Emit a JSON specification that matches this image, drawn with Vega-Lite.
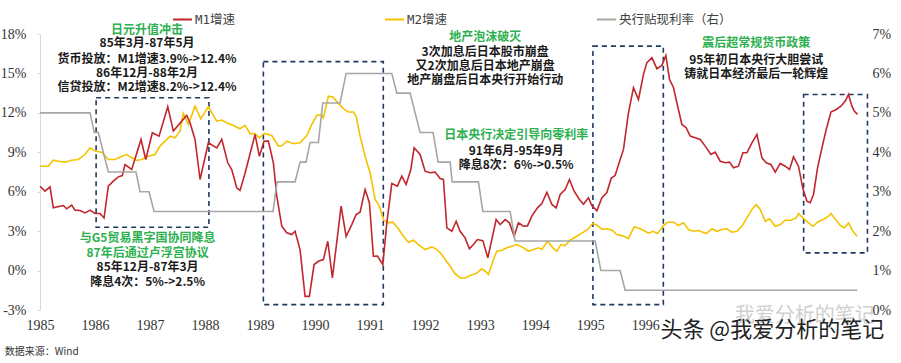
{
  "$schema": "https://vega.github.io/schema/vega-lite/v6.json",
  "width": 828,
  "height": 276,
  "autosize": "none",
  "padding": {"left": 40, "top": 34, "right": 33, "bottom": 53},
  "background": "white",
  "config": {"view": {"stroke": null}, "axis": {"labelOverlap": false}},
  "datasets": {
    "m1": [
      {"yr":1985.000,"v":6.42},{"yr":1985.091,"v":6.04},{"yr":1985.182,"v":6.37},{"yr":1985.242,"v":4.77},{"yr":1985.364,"v":4.90},{"yr":1985.424,"v":4.95},{"yr":1985.485,"v":4.70},{"yr":1985.576,"v":4.98},{"yr":1985.636,"v":4.60},{"yr":1985.727,"v":4.57},{"yr":1985.818,"v":4.39},{"yr":1985.909,"v":4.60},{"yr":1986.000,"v":4.34},{"yr":1986.091,"v":4.34},{"yr":1986.164,"v":4.00},{"yr":1986.242,"v":6.42},{"yr":1986.333,"v":6.80},{"yr":1986.424,"v":7.13},{"yr":1986.496,"v":7.23},{"yr":1986.545,"v":8.07},{"yr":1986.667,"v":7.69},{"yr":1986.836,"v":9.98},{"yr":1986.922,"v":8.45},{"yr":1987.042,"v":10.49},{"yr":1987.164,"v":10.23},{"yr":1987.322,"v":12.47},{"yr":1987.424,"v":10.61},{"yr":1987.576,"v":11.37},{"yr":1987.667,"v":11.80},{"yr":1987.727,"v":11.25},{"yr":1987.818,"v":9.98},{"yr":1987.909,"v":6.93},{"yr":1988.060,"v":9.72},{"yr":1988.213,"v":9.34},{"yr":1988.304,"v":9.98},{"yr":1988.413,"v":8.20},{"yr":1988.485,"v":7.69},{"yr":1988.576,"v":6.30},{"yr":1988.636,"v":6.10},{"yr":1988.727,"v":7.40},{"yr":1988.909,"v":10.36},{"yr":1988.987,"v":8.70},{"yr":1989.073,"v":9.85},{"yr":1989.151,"v":9.85},{"yr":1989.242,"v":8.20},{"yr":1989.304,"v":5.66},{"yr":1989.395,"v":3.37},{"yr":1989.485,"v":2.87},{"yr":1989.576,"v":2.74},{"yr":1989.636,"v":2.99},{"yr":1989.727,"v":1.60},{"yr":1989.818,"v":-1.96},{"yr":1989.896,"v":-1.96},{"yr":1989.982,"v":0.46},{"yr":1990.060,"v":0.71},{"yr":1990.151,"v":0.84},{"yr":1990.231,"v":2.23},{"yr":1990.315,"v":-0.56},{"yr":1990.473,"v":4.90},{"yr":1990.564,"v":2.61},{"yr":1990.667,"v":3.50},{"yr":1990.745,"v":4.26},{"yr":1990.818,"v":4.44},{"yr":1990.909,"v":6.17},{"yr":1990.987,"v":5.16},{"yr":1991.060,"v":1.09},{"yr":1991.133,"v":1.10},{"yr":1991.231,"v":0.46},{"yr":1991.304,"v":3.63},{"yr":1991.395,"v":6.63},{"yr":1991.496,"v":6.42},{"yr":1991.576,"v":7.18},{"yr":1991.655,"v":6.55},{"yr":1991.740,"v":7.69},{"yr":1991.800,"v":9.34},{"yr":1991.909,"v":8.83},{"yr":1992.000,"v":7.56},{"yr":1992.091,"v":7.44},{"yr":1992.182,"v":7.49},{"yr":1992.273,"v":7.00},{"yr":1992.333,"v":6.93},{"yr":1992.395,"v":3.25},{"yr":1992.485,"v":2.99},{"yr":1992.564,"v":3.75},{"yr":1992.636,"v":2.99},{"yr":1992.727,"v":2.49},{"yr":1992.805,"v":1.65},{"yr":1992.878,"v":1.98},{"yr":1992.951,"v":2.36},{"yr":1993.049,"v":2.28},{"yr":1993.140,"v":0.97},{"yr":1993.291,"v":3.88},{"yr":1993.364,"v":3.50},{"yr":1993.455,"v":3.88},{"yr":1993.533,"v":3.63},{"yr":1993.618,"v":2.61},{"yr":1993.696,"v":3.63},{"yr":1993.787,"v":3.37},{"yr":1993.860,"v":3.40},{"yr":1993.940,"v":4.14},{"yr":1994.042,"v":4.77},{"yr":1994.122,"v":5.10},{"yr":1994.213,"v":5.96},{"yr":1994.304,"v":5.03},{"yr":1994.382,"v":4.77},{"yr":1994.455,"v":5.79},{"yr":1994.545,"v":6.17},{"yr":1994.624,"v":6.93},{"yr":1994.709,"v":6.04},{"yr":1994.805,"v":5.41},{"yr":1994.878,"v":5.05},{"yr":1994.969,"v":5.54},{"yr":1995.031,"v":4.95},{"yr":1995.122,"v":4.55},{"yr":1995.213,"v":5.54},{"yr":1995.304,"v":5.94},{"yr":1995.382,"v":7.02},{"yr":1995.455,"v":7.25},{"yr":1995.545,"v":8.45},{"yr":1995.605,"v":9.20},{"yr":1995.696,"v":12.00},{"yr":1995.787,"v":13.91},{"yr":1995.878,"v":13.02},{"yr":1995.969,"v":14.93},{"yr":1996.031,"v":15.82},{"yr":1996.122,"v":16.20},{"yr":1996.213,"v":15.36},{"yr":1996.304,"v":15.61},{"yr":1996.376,"v":16.37},{"yr":1996.442,"v":14.55},{"yr":1996.515,"v":13.91},{"yr":1996.576,"v":12.77},{"yr":1996.667,"v":11.12},{"yr":1996.745,"v":10.87},{"yr":1996.818,"v":10.23},{"yr":1996.909,"v":10.11},{"yr":1997.000,"v":9.98},{"yr":1997.091,"v":9.47},{"yr":1997.195,"v":8.83},{"yr":1997.273,"v":9.01},{"yr":1997.364,"v":8.32},{"yr":1997.455,"v":8.20},{"yr":1997.533,"v":8.25},{"yr":1997.605,"v":7.82},{"yr":1997.696,"v":7.94},{"yr":1997.776,"v":8.96},{"yr":1997.849,"v":8.96},{"yr":1997.940,"v":9.72},{"yr":1998.031,"v":10.36},{"yr":1998.122,"v":8.58},{"yr":1998.200,"v":8.20},{"yr":1998.285,"v":8.07},{"yr":1998.364,"v":7.49},{"yr":1998.455,"v":8.15},{"yr":1998.545,"v":7.94},{"yr":1998.624,"v":7.69},{"yr":1998.696,"v":8.66},{"yr":1998.787,"v":7.94},{"yr":1998.867,"v":6.22},{"yr":1998.940,"v":5.28},{"yr":1999.000,"v":5.16},{"yr":1999.060,"v":5.79},{"yr":1999.133,"v":7.82},{"yr":1999.213,"v":9.34},{"yr":1999.291,"v":10.74},{"yr":1999.376,"v":12.06},{"yr":1999.473,"v":12.26},{"yr":1999.558,"v":12.51},{"yr":1999.636,"v":12.90},{"yr":1999.696,"v":13.40},{"yr":1999.758,"v":12.51},{"yr":1999.800,"v":12.13},{"yr":1999.860,"v":11.88}
    ],
    "m2": [
      {"yr":1985.000,"v":7.94},{"yr":1985.151,"v":7.94},{"yr":1985.242,"v":8.40},{"yr":1985.333,"v":8.32},{"yr":1985.455,"v":8.25},{"yr":1985.576,"v":8.40},{"yr":1985.696,"v":8.45},{"yr":1985.818,"v":8.83},{"yr":1985.909,"v":9.34},{"yr":1986.000,"v":9.09},{"yr":1986.122,"v":9.01},{"yr":1986.242,"v":8.45},{"yr":1986.364,"v":8.45},{"yr":1986.485,"v":8.70},{"yr":1986.576,"v":8.83},{"yr":1986.667,"v":8.58},{"yr":1986.758,"v":8.38},{"yr":1986.849,"v":8.45},{"yr":1986.969,"v":8.70},{"yr":1987.091,"v":8.83},{"yr":1987.182,"v":9.47},{"yr":1987.273,"v":9.85},{"yr":1987.364,"v":10.23},{"yr":1987.455,"v":10.10},{"yr":1987.545,"v":10.61},{"yr":1987.605,"v":11.96},{"yr":1987.696,"v":11.12},{"yr":1987.818,"v":12.51},{"yr":1987.922,"v":11.55},{"yr":1988.060,"v":12.47},{"yr":1988.213,"v":11.37},{"yr":1988.304,"v":11.45},{"yr":1988.395,"v":11.25},{"yr":1988.515,"v":11.04},{"yr":1988.636,"v":10.79},{"yr":1988.727,"v":11.05},{"yr":1988.818,"v":10.41},{"yr":1988.909,"v":10.43},{"yr":1988.987,"v":10.10},{"yr":1989.073,"v":10.43},{"yr":1989.213,"v":10.28},{"yr":1989.333,"v":9.47},{"yr":1989.395,"v":9.50},{"yr":1989.485,"v":9.85},{"yr":1989.605,"v":9.65},{"yr":1989.727,"v":9.72},{"yr":1989.849,"v":10.28},{"yr":1989.940,"v":11.12},{"yr":1990.031,"v":11.80},{"yr":1990.109,"v":11.88},{"yr":1990.151,"v":11.63},{"yr":1990.242,"v":13.27},{"yr":1990.322,"v":13.20},{"yr":1990.424,"v":12.72},{"yr":1990.515,"v":12.32},{"yr":1990.605,"v":12.06},{"yr":1990.696,"v":12.06},{"yr":1990.745,"v":11.75},{"yr":1990.818,"v":10.23},{"yr":1990.909,"v":8.70},{"yr":1991.000,"v":7.44},{"yr":1991.091,"v":5.41},{"yr":1991.169,"v":4.90},{"yr":1991.242,"v":3.88},{"yr":1991.322,"v":3.63},{"yr":1991.413,"v":3.68},{"yr":1991.515,"v":3.18},{"yr":1991.605,"v":2.61},{"yr":1991.696,"v":2.16},{"yr":1991.787,"v":2.31},{"yr":1991.878,"v":1.98},{"yr":1992.000,"v":1.60},{"yr":1992.122,"v":1.80},{"yr":1992.213,"v":1.60},{"yr":1992.273,"v":1.35},{"yr":1992.333,"v":1.04},{"yr":1992.364,"v":0.84},{"yr":1992.455,"v":0.33},{"yr":1992.545,"v":-0.23},{"yr":1992.636,"v":-0.56},{"yr":1992.727,"v":-0.56},{"yr":1992.818,"v":-0.38},{"yr":1992.927,"v":-0.23},{"yr":1993.031,"v":0.13},{"yr":1993.091,"v":-0.05},{"yr":1993.151,"v":-0.30},{"yr":1993.242,"v":0.84},{"yr":1993.304,"v":1.47},{"yr":1993.395,"v":1.55},{"yr":1993.485,"v":1.73},{"yr":1993.576,"v":1.85},{"yr":1993.667,"v":1.98},{"yr":1993.787,"v":1.73},{"yr":1993.878,"v":1.47},{"yr":1993.969,"v":1.60},{"yr":1994.060,"v":1.73},{"yr":1994.122,"v":1.60},{"yr":1994.224,"v":2.23},{"yr":1994.322,"v":1.73},{"yr":1994.395,"v":1.47},{"yr":1994.467,"v":1.98},{"yr":1994.545,"v":1.90},{"yr":1994.636,"v":2.31},{"yr":1994.758,"v":2.61},{"yr":1994.878,"v":2.92},{"yr":1994.969,"v":3.18},{"yr":1995.049,"v":3.60},{"yr":1995.122,"v":3.45},{"yr":1995.213,"v":3.15},{"yr":1995.304,"v":3.18},{"yr":1995.395,"v":3.08},{"yr":1995.485,"v":2.74},{"yr":1995.595,"v":2.64},{"yr":1995.696,"v":2.45},{"yr":1995.800,"v":3.33},{"yr":1995.909,"v":3.18},{"yr":1996.000,"v":2.99},{"yr":1996.060,"v":2.85},{"yr":1996.140,"v":2.99},{"yr":1996.224,"v":2.82},{"yr":1996.322,"v":3.37},{"yr":1996.405,"v":3.68},{"yr":1996.515,"v":3.68},{"yr":1996.605,"v":3.43},{"yr":1996.696,"v":3.63},{"yr":1996.787,"v":3.12},{"yr":1996.878,"v":2.99},{"yr":1996.969,"v":3.05},{"yr":1997.109,"v":2.82},{"yr":1997.213,"v":3.18},{"yr":1997.304,"v":2.99},{"yr":1997.395,"v":3.12},{"yr":1997.485,"v":3.18},{"yr":1997.576,"v":2.92},{"yr":1997.667,"v":2.99},{"yr":1997.758,"v":3.37},{"yr":1997.849,"v":4.01},{"yr":1997.940,"v":4.65},{"yr":1998.018,"v":5.03},{"yr":1998.091,"v":4.65},{"yr":1998.182,"v":3.75},{"yr":1998.260,"v":3.94},{"yr":1998.364,"v":3.37},{"yr":1998.455,"v":3.50},{"yr":1998.545,"v":3.83},{"yr":1998.649,"v":3.83},{"yr":1998.745,"v":4.01},{"yr":1998.787,"v":4.34},{"yr":1998.867,"v":4.01},{"yr":1998.969,"v":3.63},{"yr":1999.049,"v":3.37},{"yr":1999.133,"v":3.68},{"yr":1999.231,"v":3.88},{"yr":1999.333,"v":4.14},{"yr":1999.376,"v":4.34},{"yr":1999.473,"v":3.83},{"yr":1999.545,"v":3.43},{"yr":1999.618,"v":3.25},{"yr":1999.696,"v":3.63},{"yr":1999.776,"v":2.99},{"yr":1999.849,"v":2.61}
    ],
    "rate": [
      {"yr":1985.000,"v":5.0},{"yr":1985.909,"v":5.0},{"yr":1985.987,"v":4.5},{"yr":1986.060,"v":4.5},{"yr":1986.242,"v":3.5},{"yr":1986.745,"v":3.5},{"yr":1986.818,"v":3.0},{"yr":1986.982,"v":3.0},{"yr":1987.073,"v":2.5},{"yr":1989.236,"v":2.5},{"yr":1989.309,"v":3.25},{"yr":1989.636,"v":3.25},{"yr":1989.727,"v":3.75},{"yr":1989.836,"v":3.75},{"yr":1989.909,"v":4.25},{"yr":1990.060,"v":4.25},{"yr":1990.140,"v":5.25},{"yr":1990.455,"v":5.25},{"yr":1990.564,"v":6.0},{"yr":1991.395,"v":6.0},{"yr":1991.485,"v":5.5},{"yr":1991.727,"v":5.5},{"yr":1991.909,"v":4.5},{"yr":1992.145,"v":4.5},{"yr":1992.236,"v":3.75},{"yr":1992.455,"v":3.75},{"yr":1992.491,"v":3.25},{"yr":1992.969,"v":3.25},{"yr":1993.049,"v":2.5},{"yr":1993.545,"v":2.5},{"yr":1993.636,"v":1.75},{"yr":1995.091,"v":1.75},{"yr":1995.195,"v":1.0},{"yr":1995.545,"v":1.0},{"yr":1995.636,"v":0.5},{"yr":1999.855,"v":0.5}
    ],
    "boxes": [
      {"x1":1986.02,"x2":1988.07,"y1":3.3,"y2":13.15},
      {"x1":1989.06,"x2":1991.24,"y1":-2.59,"y2":15.9},
      {"x1":1995.05,"x2":1996.33,"y1":-2.59,"y2":17.08},
      {"x1":1998.88,"x2":2000.04,"y1":1.35,"y2":13.4}
    ],
    "notes": [
      {"yr":1986.945,"val":18.3,"t":"日元升值冲击","k":"title"},
      {"yr":1986.945,"val":17.29,"t":"85年3月-87年5月","k":"body"},
      {"yr":1986.945,"val":16.07,"t":"货币投放：M1增速3.9%->12.4%","k":"body"},
      {"yr":1986.945,"val":15.03,"t":"86年12月-88年2月","k":"body"},
      {"yr":1986.945,"val":13.96,"t":"信贷投放：M2增速8.2%->12.4%","k":"body"},
      {"yr":1986.955,"val":2.49,"t":"与G5贸易黑字国协同降息","k":"title"},
      {"yr":1986.955,"val":1.35,"t":"87年后通过卢浮宫协议","k":"title"},
      {"yr":1986.955,"val":0.25,"t":"85年12月-87年3月","k":"body"},
      {"yr":1986.955,"val":-0.86,"t":"降息4次：5%->2.5%","k":"body"},
      {"yr":1993.091,"val":17.8,"t":"地产泡沫破灭","k":"title"},
      {"yr":1993.091,"val":16.63,"t":"3次加息后日本股市崩盘","k":"body"},
      {"yr":1993.091,"val":15.56,"t":"又2次加息后日本地产崩盘","k":"body"},
      {"yr":1993.091,"val":14.49,"t":"地产崩盘后日本央行开始行动","k":"body"},
      {"yr":1993.655,"val":10.28,"t":"日本央行决定引导向零利率","k":"title"},
      {"yr":1993.655,"val":9.09,"t":"91年6月-95年9月","k":"body"},
      {"yr":1993.655,"val":8.0,"t":"降息8次：6%->0.5%","k":"body"},
      {"yr":1998.018,"val":17.29,"t":"震后超常规货币政策","k":"title"},
      {"yr":1998.018,"val":16.05,"t":"95年初日本央行大胆尝试","k":"body"},
      {"yr":1998.018,"val":14.98,"t":"铸就日本经济最后一轮辉煌","k":"body"},
      {"yr":1998.9,"val":-3.45,"t":"我爱分析的笔记","k":"mark2"},
      {"yr":1998.31,"val":-4.55,"t":"头条 @我爱分析的笔记","k":"mark"},
      {"yr":1984.36,"val":-6.17,"t":"数据来源：Wind","k":"source"}
    ]
  },
  "layer": [
    {
      "layer": [
        {
          "mark": {"type": "rule", "color": "#d9d9d9", "strokeWidth": 1},
          "encoding": {"y": {"datum": 0, "type": "quantitative", "scale": {"domain": [-3, 18], "nice": false, "zero": false},
            "axis": {"values": [-3,0,3,6,9,12,15,18], "tickCount": 12, "labelExpr": "datum.value + '%'", "title": null, "grid": false, "domainColor": "#d9d9d9", "tickColor": "#d9d9d9", "tickSize": 3, "labelPadding": 11, "labelOverlap": false, "labelFont": "Liberation Serif", "labelFontSize": 14, "labelColor": "#333333"}}}
        },
        {
          "data": {"name": "boxes"},
          "mark": {"type": "rect", "fill": null, "fillOpacity": 0, "stroke": "#1f3a5f", "strokeWidth": 1.6, "strokeDash": [5, 4]},
          "encoding": {
            "x": {"field": "x1", "type": "quantitative", "scale": {"domain": [1985, 2000.05], "nice": false, "zero": false}},
            "x2": {"field": "x2"},
            "y": {"field": "y1", "type": "quantitative", "scale": {"domain": [-3, 18], "nice": false, "zero": false}},
            "y2": {"field": "y2"}
          }
        },
        {
          "data": {"name": "m2"},
          "mark": {"type": "line", "strokeWidth": 1.6},
          "encoding": {
            "x": {"field": "yr", "type": "quantitative", "scale": {"domain": [1985, 2000.05], "nice": false, "zero": false},
              "axis": {"values": [1985,1986,1987,1988,1989,1990,1991,1992,1993,1994,1995,1996], "tickCount": 20, "format": "d", "title": null, "grid": false, "ticks": false, "domain": false, "labelPadding": 8, "labelFlush": false, "labelOverlap": false, "labelFont": "Liberation Serif", "labelFontSize": 14, "labelColor": "#333333"}},
            "y": {"field": "v", "type": "quantitative", "scale": {"domain": [-3, 18], "nice": false, "zero": false},
              "axis": {"values": [-3,0,3,6,9,12,15,18], "tickCount": 12, "labelExpr": "datum.value + '%'", "title": null, "grid": false, "domainColor": "#d9d9d9", "tickColor": "#d9d9d9", "tickSize": 3, "labelPadding": 11, "labelOverlap": false, "labelFont": "Liberation Serif", "labelFontSize": 14, "labelColor": "#333333"}},
            "color": {"datum": "M2增速", "type": "nominal"}
          }
        },
        {
          "data": {"name": "m1"},
          "mark": {"type": "line", "strokeWidth": 1.6},
          "encoding": {
            "x": {"field": "yr", "type": "quantitative", "scale": {"domain": [1985, 2000.05], "nice": false, "zero": false}},
            "y": {"field": "v", "type": "quantitative", "scale": {"domain": [-3, 18], "nice": false, "zero": false}},
            "color": {"datum": "M1增速", "type": "nominal"}
          }
        },
        {
          "data": {"name": "notes"},
          "transform": [{"filter": "datum.k == 'title'"}],
          "mark": {"type": "text", "font": "Noto Sans CJK SC", "fontWeight": "bold", "fontSize": 12, "color": "#2db04f", "align": "center", "baseline": "middle"},
          "encoding": {
            "x": {"field": "yr", "type": "quantitative", "scale": {"domain": [1985, 2000.05], "nice": false, "zero": false}},
            "y": {"field": "val", "type": "quantitative", "scale": {"domain": [-3, 18], "nice": false, "zero": false}},
            "text": {"field": "t"}
          }
        },
        {
          "data": {"name": "notes"},
          "transform": [{"filter": "datum.k == 'body'"}],
          "mark": {"type": "text", "font": "Noto Sans CJK SC", "fontWeight": "bold", "fontSize": 12, "color": "#1a1a1a", "align": "center", "baseline": "middle"},
          "encoding": {
            "x": {"field": "yr", "type": "quantitative", "scale": {"domain": [1985, 2000.05], "nice": false, "zero": false}},
            "y": {"field": "val", "type": "quantitative", "scale": {"domain": [-3, 18], "nice": false, "zero": false}},
            "text": {"field": "t"}
          }
        },
        {
          "data": {"name": "notes"},
          "transform": [{"filter": "datum.k == 'mark2'"}],
          "mark": {"type": "text", "font": "Noto Sans CJK SC", "fontSize": 20, "color": "#cfcfcf", "align": "center", "baseline": "middle"},
          "encoding": {
            "x": {"field": "yr", "type": "quantitative", "scale": {"domain": [1985, 2000.05], "nice": false, "zero": false}},
            "y": {"field": "val", "type": "quantitative", "scale": {"domain": [-3, 18], "nice": false, "zero": false}},
            "text": {"field": "t"}
          }
        },
        {
          "data": {"name": "notes"},
          "transform": [{"filter": "datum.k == 'mark'"}],
          "mark": {"type": "text", "font": "Noto Sans CJK SC", "fontSize": 22, "color": "#222222", "align": "center", "baseline": "middle"},
          "encoding": {
            "x": {"field": "yr", "type": "quantitative", "scale": {"domain": [1985, 2000.05], "nice": false, "zero": false}},
            "y": {"field": "val", "type": "quantitative", "scale": {"domain": [-3, 18], "nice": false, "zero": false}},
            "text": {"field": "t"}
          }
        },
        {
          "data": {"name": "notes"},
          "transform": [{"filter": "datum.k == 'source'"}],
          "mark": {"type": "text", "font": "Noto Sans CJK SC", "fontSize": 10, "color": "#333333", "align": "left", "baseline": "middle"},
          "encoding": {
            "x": {"field": "yr", "type": "quantitative", "scale": {"domain": [1985, 2000.05], "nice": false, "zero": false}},
            "y": {"field": "val", "type": "quantitative", "scale": {"domain": [-3, 18], "nice": false, "zero": false}},
            "text": {"field": "t"}
          }
        }
      ]
    },
    {
      "data": {"name": "rate"},
      "mark": {"type": "line", "strokeWidth": 1.6},
      "encoding": {
        "x": {"field": "yr", "type": "quantitative", "scale": {"domain": [1985, 2000.05], "nice": false, "zero": false}},
        "y": {"field": "v", "type": "quantitative", "scale": {"domain": [0, 7], "nice": false, "zero": false},
          "axis": {"orient": "right", "values": [0,1,2,3,4,5,6,7], "tickCount": 12, "labelExpr": "datum.value + '%'", "title": null, "grid": false, "ticks": false, "domain": false, "labelPadding": 4, "labelOverlap": false, "labelFont": "Liberation Serif", "labelFontSize": 14, "labelColor": "#333333"}},
        "color": {"datum": "央行贴现利率（右）", "type": "nominal",
          "scale": {"domain": ["M1增速", "M2增速", "央行贴现利率（右）"], "range": ["#c0272d", "#f5c200", "#a6a6a6"]},
          "legend": {"orient": "none", "legendX": 132, "legendY": -25, "direction": "horizontal", "title": null, "symbolType": "stroke", "symbolSize": 361, "symbolStrokeWidth": 2, "labelOffset": 2, "columnPadding": 145, "labelFont": "DejaVu Sans Mono, Noto Sans CJK SC", "labelFontSize": 12.5, "labelColor": "#404040"}}
      }
    }
  ],
  "resolve": {"scale": {"y": "independent"}}
}
